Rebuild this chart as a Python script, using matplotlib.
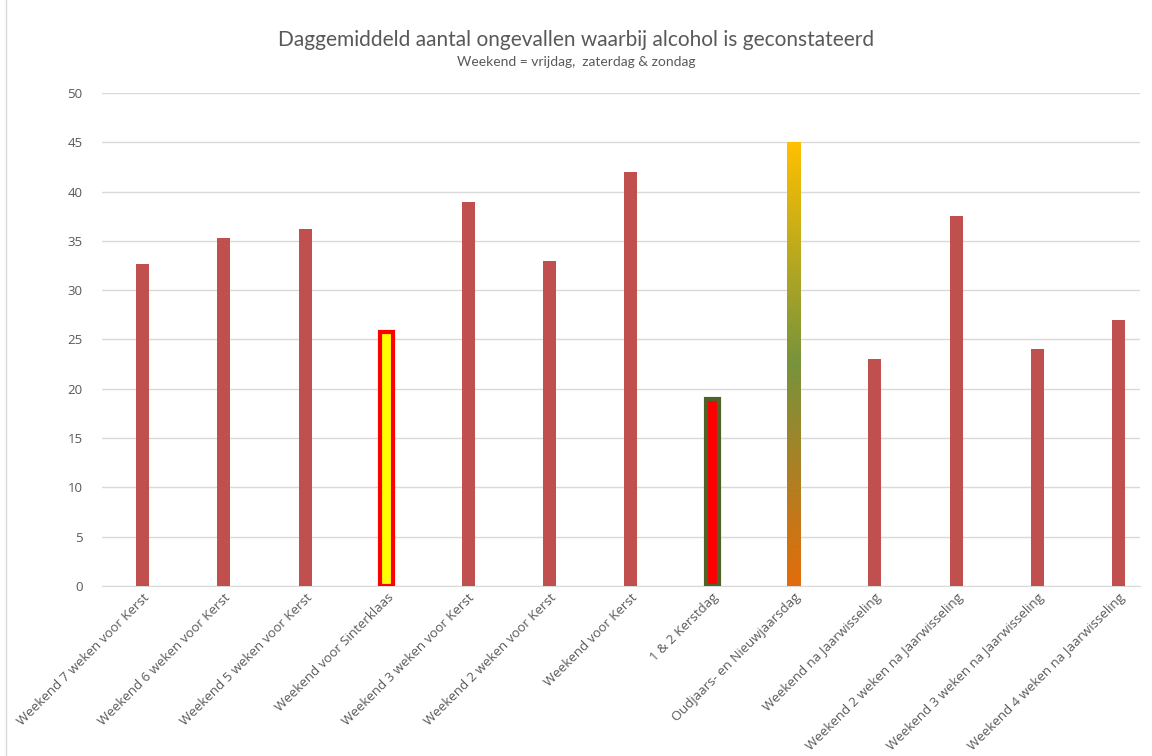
import numpy as np
import matplotlib.pyplot as plt
from matplotlib.colors import LinearSegmentedColormap
from matplotlib.patches import Rectangle

categories = ["Weekend 7 weken voor Kerst", "Weekend 6 weken voor Kerst",
              "Weekend 5 weken voor Kerst", "Weekend voor Sinterklaas",
              "Weekend 3 weken voor Kerst", "Weekend 2 weken voor Kerst",
              "Weekend voor Kerst", "1 & 2 Kerstdag",
              "Oudjaars- en Nieuwjaarsdag", "Weekend na Jaarwisseling",
              "Weekend 2 weken na Jaarwisseling", "Weekend 3 weken na Jaarwisseling",
              "Weekend 4 weken na Jaarwisseling"]
values = [32.7, 35.3, 36.2, 25.8, 38.9, 33.0, 42.0, 19.0, 45.0, 23.0, 37.5, 24.0, 27.0]

red = "#C0504D"
gray = "#595959"

plt.rcParams['font.family'] = ['Open Sans', 'DejaVu Sans']

fig = plt.figure(figsize=(11.52, 7.56), dpi=100)
ax = fig.add_axes([0.0885, 0.2249, 0.9011, 0.6521])

x = np.arange(len(categories))
bars = ax.bar(x, values, width=0.16, color=red, zorder=3)

# Sinterklaas: geel met rode rand
bars[3].set_facecolor("#FFFF00")
bars[3].set_edgecolor("#FF0000")
bars[3].set_linewidth(3)

# Kerstdag: rood met donkergroene rand
bars[7].set_facecolor("#FF0000")
bars[7].set_edgecolor("#4F6228")
bars[7].set_linewidth(3)

# Oud & nieuw: verloop van oranje via groen naar geel
bars[8].set_facecolor("none")
cmap = LinearSegmentedColormap.from_list("grad", ["#E46C0A", "#77933C", "#FFC000"])
b = bars[8]
grad = np.linspace(0, 1, 256).reshape(-1, 1)
im = ax.imshow(grad, cmap=cmap, origin="lower", aspect="auto",
               extent=[b.get_x(), b.get_x() + b.get_width(), 0, b.get_height()], zorder=3)
im.set_clip_path(b)

ax.set_xlim(-0.5, 12.26)
ax.set_ylim(0, 50)
ax.set_yticks(np.arange(0, 51, 5))
ax.yaxis.grid(True, color="#D9D9D9", linewidth=1, zorder=0)
for s in ["top", "right", "left"]:
    ax.spines[s].set_visible(False)
ax.spines["bottom"].set_color("#D9D9D9")
ax.tick_params(axis="both", length=0, colors=gray, labelsize=9.5)
ax.tick_params(axis="y", pad=14)
ax.set_xticks(x)
ax.set_xticklabels(categories, rotation=45, ha="right", rotation_mode="anchor")

fig.text(0.5, 0.947, "Daggemiddeld aantal ongevallen waarbij alcohol is geconstateerd",
         ha="center", va="center", fontsize=15, color=gray, family=["Lato", "DejaVu Sans"])
fig.text(0.5, 0.918, "Weekend = vrijdag,  zaterdag & zondag",
         ha="center", va="center", fontsize=10, color=gray, family=["Lato", "DejaVu Sans"])

fig.patches.append(Rectangle((0.005, -0.01), 1.0, 1.02, transform=fig.transFigure,
                             fill=False, edgecolor="#D9D9D9", linewidth=1))

fig.savefig("out.png", dpi=100)
